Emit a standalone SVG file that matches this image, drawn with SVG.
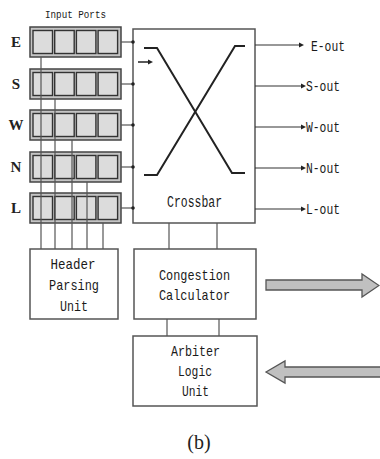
<svg xmlns="http://www.w3.org/2000/svg" width="380" height="459" viewBox="0 0 380 459">
<style>
.box{fill:#fff;stroke:#555;stroke-width:1.5}
.port{fill:#c4c4c4;stroke:#444;stroke-width:1.5}
.cell{fill:#dcdcdc;stroke:#333;stroke-width:1.4}
.ln{stroke:#555;stroke-width:1.2;fill:none}
.xl{stroke:#222;stroke-width:2;fill:none}
.t{font-family:"Liberation Mono",monospace;font-size:15px;fill:#1a1a1a;text-anchor:middle}
.lab{font-family:"Liberation Serif",serif;font-size:15px;font-weight:bold;fill:#222;text-anchor:middle}
.ah{fill:#222}
.big{fill:#c0c0c0;stroke:#555;stroke-width:1.3}
</style>
<rect width="380" height="459" fill="#fff"/>
<text x="75.5" y="18" class="t" style="font-size:11px" textLength="61" lengthAdjust="spacingAndGlyphs">Input Ports</text>

<g id="port-E">
<text x="16" y="47" class="lab">E</text>
<rect x="30" y="27" width="91" height="30" class="port"/>
<rect x="33" y="30.5" width="19.5" height="23" class="cell"/><rect x="54.7" y="30.5" width="19.5" height="23" class="cell"/><rect x="76.4" y="30.5" width="19.5" height="23" class="cell"/><rect x="98.1" y="30.5" width="19.5" height="23" class="cell"/>
</g>
<g id="port-S">
<text x="16" y="89" class="lab">S</text>
<rect x="30" y="69" width="91" height="30" class="port"/>
<rect x="33" y="72.5" width="19.5" height="23" class="cell"/><rect x="54.7" y="72.5" width="19.5" height="23" class="cell"/><rect x="76.4" y="72.5" width="19.5" height="23" class="cell"/><rect x="98.1" y="72.5" width="19.5" height="23" class="cell"/>
</g>
<g id="port-W">
<text x="16" y="130" class="lab">W</text>
<rect x="30" y="110" width="91" height="30" class="port"/>
<rect x="33" y="113.5" width="19.5" height="23" class="cell"/><rect x="54.7" y="113.5" width="19.5" height="23" class="cell"/><rect x="76.4" y="113.5" width="19.5" height="23" class="cell"/><rect x="98.1" y="113.5" width="19.5" height="23" class="cell"/>
</g>
<g id="port-N">
<text x="16" y="172" class="lab">N</text>
<rect x="30" y="152" width="91" height="30" class="port"/>
<rect x="33" y="155.5" width="19.5" height="23" class="cell"/><rect x="54.7" y="155.5" width="19.5" height="23" class="cell"/><rect x="76.4" y="155.5" width="19.5" height="23" class="cell"/><rect x="98.1" y="155.5" width="19.5" height="23" class="cell"/>
</g>
<g id="port-L">
<text x="16" y="213" class="lab">L</text>
<rect x="30" y="193" width="91" height="30" class="port"/>
<rect x="33" y="196.5" width="19.5" height="23" class="cell"/><rect x="54.7" y="196.5" width="19.5" height="23" class="cell"/><rect x="76.4" y="196.5" width="19.5" height="23" class="cell"/><rect x="98.1" y="196.5" width="19.5" height="23" class="cell"/>
</g>

<g id="crossbar">
<rect x="133" y="29" width="122" height="194" class="box"/>
<polyline points="144,48 157,48 232,173 245,173" class="xl"/>
<polyline points="245,46 235,46 157,175 144,175" class="xl"/>
<line x1="138" y1="62" x2="149" y2="62" class="xl" style="stroke-width:1.5"/>
<polygon points="153,62 148,59.5 148,64.5" class="ah"/>
<text x="194.5" y="207" class="t" style="font-size:16px" textLength="55" lengthAdjust="spacingAndGlyphs">Crossbar</text>
</g>

<g id="header-parsing-unit">
<rect x="30" y="249" width="88" height="70" class="box"/>
<text x="73" y="269" class="t" textLength="45" lengthAdjust="spacingAndGlyphs">Header</text>
<text x="74" y="290" class="t" textLength="50" lengthAdjust="spacingAndGlyphs">Parsing</text>
<text x="74" y="311" class="t" textLength="28" lengthAdjust="spacingAndGlyphs">Unit</text>
</g>

<g id="congestion-calculator">
<rect x="134" y="249" width="122" height="70" class="box"/>
<text x="194.5" y="280" class="t" textLength="71" lengthAdjust="spacingAndGlyphs">Congestion</text>
<text x="194.5" y="300" class="t" textLength="71" lengthAdjust="spacingAndGlyphs">Calculator</text>
</g>

<g id="arbiter-logic-unit">
<rect x="133" y="336" width="124" height="70" class="box"/>
<text x="195.5" y="356" class="t" textLength="49" lengthAdjust="spacingAndGlyphs">Arbiter</text>
<text x="195" y="376" class="t" textLength="34" lengthAdjust="spacingAndGlyphs">Logic</text>
<text x="195.5" y="396" class="t" textLength="27" lengthAdjust="spacingAndGlyphs">Unit</text>
</g>

<g id="outputs">
<text x="328" y="51" class="t" textLength="34" lengthAdjust="spacingAndGlyphs">E-out</text>
<text x="323" y="91" class="t" textLength="34" lengthAdjust="spacingAndGlyphs">S-out</text>
<text x="323" y="132" class="t" textLength="34" lengthAdjust="spacingAndGlyphs">W-out</text>
<text x="323" y="173" class="t" textLength="34" lengthAdjust="spacingAndGlyphs">N-out</text>
<text x="323" y="214" class="t" textLength="34" lengthAdjust="spacingAndGlyphs">L-out</text>
</g>

<g id="connectors">
<line x1="121" y1="42" x2="133" y2="42" class="ln"/>
<line x1="121" y1="84" x2="133" y2="84" class="ln"/>
<line x1="121" y1="125" x2="133" y2="125" class="ln"/>
<line x1="121" y1="167" x2="133" y2="167" class="ln"/>
<line x1="121" y1="208" x2="133" y2="208" class="ln"/>
<circle cx="133" cy="42" r="1.8" class="ah"/>
<circle cx="133" cy="84" r="1.8" class="ah"/>
<circle cx="133" cy="125" r="1.8" class="ah"/>
<circle cx="133" cy="167" r="1.8" class="ah"/>
<circle cx="133" cy="208" r="1.8" class="ah"/>
<line x1="41" y1="57" x2="41" y2="249" class="ln"/>
<line x1="55" y1="99" x2="55" y2="249" class="ln"/>
<line x1="72" y1="140" x2="72" y2="249" class="ln"/>
<line x1="87" y1="182" x2="87" y2="249" class="ln"/>
<line x1="103" y1="223" x2="103" y2="249" class="ln"/>
<line x1="169" y1="223" x2="169" y2="249" class="ln"/>
<line x1="217" y1="223" x2="217" y2="249" class="ln"/>
<line x1="167" y1="319" x2="167" y2="336" class="ln"/>
<line x1="219" y1="319" x2="219" y2="336" class="ln"/>
<line x1="255" y1="45" x2="300" y2="45" class="ln" style="stroke:#333"/>
<polygon points="304,45 299,42.5 299,47.5" class="ah"/>
<line x1="255" y1="86" x2="302" y2="86" class="ln" style="stroke:#333"/>
<polygon points="306,86 301,83.5 301,88.5" class="ah"/>
<line x1="255" y1="127" x2="302" y2="127" class="ln" style="stroke:#333"/>
<polygon points="306,127 301,124.5 301,129.5" class="ah"/>
<line x1="255" y1="168" x2="302" y2="168" class="ln" style="stroke:#333"/>
<polygon points="306,168 301,165.5 301,170.5" class="ah"/>
<line x1="255" y1="209" x2="302" y2="209" class="ln" style="stroke:#333"/>
<polygon points="306,209 301,206.5 301,211.5" class="ah"/>
<polygon points="266,280 362,280 362,274 379,285.5 362,297 362,290 266,290" class="big"/>
<polygon points="266,372 285,361 285,367 381,367 381,377 285,377 285,383" class="big"/>
</g>

<text x="199" y="449" style="font-family:'Liberation Serif',serif;font-size:20px;fill:#222;text-anchor:middle">(b)</text>
</svg>
